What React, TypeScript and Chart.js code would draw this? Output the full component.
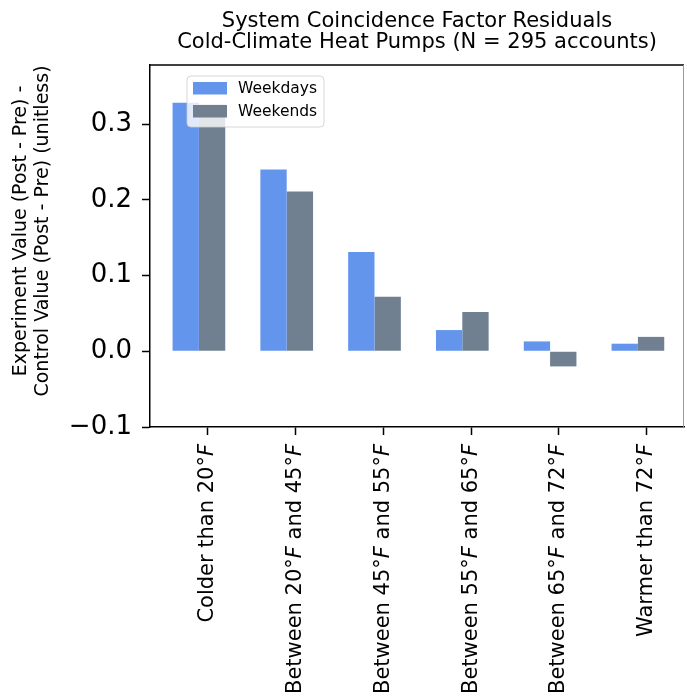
import React, { useEffect, useRef } from 'react';
import { Chart, registerables } from 'chart.js';

Chart.register(...registerables);

// ---- data ----
const categories = [
  'Colder than 20°F',
  'Between 20°F and 45°F',
  'Between 45°F and 55°F',
  'Between 55°F and 65°F',
  'Between 65°F and 72°F',
  'Warmer than 72°F',
];
const weekdays = [0.328, 0.240, 0.131, 0.028, 0.013, 0.010];
const weekends = [0.326, 0.211, 0.072, 0.052, -0.020, 0.019];
const yTicks = [-0.1, 0.0, 0.1, 0.2, 0.3];
const seriesNames = ['Weekdays', 'Weekends'];
const titleLines = ['System Coincidence Factor Residuals', 'Cold-Climate Heat Pumps (N = 295 accounts)'];
const yTitleLines = ['Experiment Value (Post - Pre) -', 'Control Value (Post - Pre) (unitless)'];

// ---- style ----
const seriesColors = ['#6495ED', '#708090'];
const FONT = "'DejaVu Sans', 'Liberation Sans', sans-serif";
const W = 687;
const H = 696;
const GROUP_SHIFT = -0.1; // group centre relative to tick (in category units)

const fmtY = (v: number) => {
  const s = Math.abs(v).toFixed(1);
  return v < -1e-9 ? '\u2212' + s : s;
};

const decorPlugin = {
  id: 'decor',
  afterDatasetsDraw(chart: any) {
    const ctx = chart.ctx as CanvasRenderingContext2D;
    const a = chart.chartArea;
    // legend
    ctx.save();
    const lx = 187, ly = 76, lw = 137, lh = 51, r = 4;
    ctx.beginPath();
    ctx.moveTo(lx + r, ly);
    ctx.lineTo(lx + lw - r, ly);
    ctx.quadraticCurveTo(lx + lw, ly, lx + lw, ly + r);
    ctx.lineTo(lx + lw, ly + lh - r);
    ctx.quadraticCurveTo(lx + lw, ly + lh, lx + lw - r, ly + lh);
    ctx.lineTo(lx + r, ly + lh);
    ctx.quadraticCurveTo(lx, ly + lh, lx, ly + lh - r);
    ctx.lineTo(lx, ly + r);
    ctx.quadraticCurveTo(lx, ly, lx + r, ly);
    ctx.closePath();
    ctx.fillStyle = 'rgba(255,255,255,0.8)';
    ctx.fill();
    ctx.strokeStyle = 'rgba(204,204,204,0.8)';
    ctx.lineWidth = 1;
    ctx.stroke();
    const rows = [82, 105];
    seriesNames.forEach((name, k) => {
      ctx.fillStyle = seriesColors[k];
      ctx.fillRect(193, rows[k], 34, 12.5);
      ctx.fillStyle = '#000';
      ctx.font = `15.5px ${FONT}`;
      ctx.textAlign = 'left';
      ctx.textBaseline = 'middle';
      ctx.fillText(name, 238, rows[k] + 6.5);
    });
    ctx.restore();

    // top & right spines
    ctx.save();
    ctx.strokeStyle = '#000';
    ctx.lineWidth = 1.5;
    ctx.beginPath();
    ctx.moveTo(a.left, a.top);
    ctx.lineTo(a.right, a.top);
    ctx.stroke();
    ctx.strokeStyle = '#999';
    ctx.lineWidth = 1;
    ctx.beginPath();
    ctx.moveTo(a.right - 0.5, a.top);
    ctx.lineTo(a.right - 0.5, a.bottom);
    ctx.stroke();
    ctx.restore();
  },
  afterDraw(chart: any) {
    const ctx = chart.ctx as CanvasRenderingContext2D;
    const a = chart.chartArea;
    const xs = chart.scales.x;
    ctx.save();
    ctx.fillStyle = '#000';
    // title
    ctx.font = `21px ${FONT}`;
    ctx.textAlign = 'center';
    ctx.textBaseline = 'alphabetic';
    const cx = (a.left + a.right) / 2;
    ctx.fillText(titleLines[0], cx, 26.7);
    ctx.fillText(titleLines[1], cx, 47.5);

    // y title
    ctx.font = `19px ${FONT}`;
    ctx.textBaseline = 'middle';
    ctx.textAlign = 'center';
    const yc = 231;
    [21.5, 43.5].forEach((x, k) => {
      ctx.save();
      ctx.translate(x, yc);
      ctx.rotate(-Math.PI / 2);
      ctx.fillText(yTitleLines[k], 0, 0);
      ctx.restore();
    });

    // x category labels (rotated, italic F after degree sign)
    const normal = `21px ${FONT}`;
    const italic = `italic 21px ${FONT}`;
    categories.forEach((label, i) => {
      const px = xs.getPixelForValue(i);
      const segs: { t: string; f: string }[] = [];
      const parts = label.split('°F');
      parts.forEach((p, j) => {
        if (p) segs.push({ t: p, f: normal });
        if (j < parts.length - 1) {
          segs.push({ t: '°', f: normal });
          segs.push({ t: 'F', f: italic });
        }
      });
      let total = 0;
      segs.forEach((s) => {
        ctx.font = s.f;
        total += ctx.measureText(s.t).width;
      });
      ctx.save();
      ctx.translate(px, a.bottom + 17);
      ctx.rotate(-Math.PI / 2);
      ctx.textAlign = 'left';
      ctx.textBaseline = 'middle';
      let x = -total;
      segs.forEach((s) => {
        ctx.font = s.f;
        ctx.fillText(s.t, x, 0);
        x += ctx.measureText(s.t).width;
      });
      ctx.restore();
    });
    ctx.restore();
  },
};

export default function App() {
  const ref = useRef<HTMLCanvasElement>(null);
  useEffect(() => {
    const canvas = ref.current!;
    const series = [weekdays, weekends];
    const chart = new Chart(canvas, {
      type: 'bar',
      data: {
        datasets: series.map((vals, k) => ({
          label: seriesNames[k],
          data: vals.map((v, i) => ({ x: i + GROUP_SHIFT, y: v })),
          backgroundColor: seriesColors[k],
          borderWidth: 0,
          categoryPercentage: 0.6,
          barPercentage: 1,
        })),
      },
      options: {
        animation: false,
        responsive: false,
        devicePixelRatio: 1,
        layout: { padding: { top: 65, right: 3, left: 0, bottom: 0 } },
        plugins: {
          legend: { display: false },
          title: { display: false },
          tooltip: { enabled: false },
        },
        scales: {
          x: {
            type: 'linear',
            min: -0.657,
            max: 5.425,
            offset: false,
            grid: {
              display: true,
              drawOnChartArea: false,
              drawTicks: true,
              tickLength: 8,
              tickWidth: 1.5,
              tickColor: '#000',
              offset: false,
            },
            border: { display: true, color: '#000', width: 1.5 },
            ticks: { display: false },
            afterBuildTicks: (s: any) => {
              s.ticks = categories.map((_, i) => ({ value: i }));
            },
            afterFit: (s: any) => {
              s.height = H - 427;
            },
          },
          y: {
            type: 'linear',
            min: -0.1,
            max: 0.378,
            grid: {
              display: true,
              drawOnChartArea: false,
              drawTicks: true,
              tickLength: 8,
              tickWidth: 1.5,
              tickColor: '#000',
            },
            border: { display: true, color: '#000', width: 1.5 },
            ticks: {
              font: { family: FONT, size: 26 },
              color: '#000',
              padding: 10,
              callback: (v: any) => fmtY(Number(v)),
            },
            afterBuildTicks: (s: any) => {
              s.ticks = yTicks.map((v) => ({ value: v }));
            },
            afterFit: (s: any) => {
              s.width = 150;
            },
          },
        },
      } as any,
      plugins: [decorPlugin],
    });
    return () => chart.destroy();
  }, []);
  return (
    <div style={{ position: 'absolute', left: 0, top: 0, width: W, height: H, background: '#fff' }}>
      <canvas ref={ref} width={W} height={H} style={{ display: 'block', width: W, height: H }} />
    </div>
  );
}
